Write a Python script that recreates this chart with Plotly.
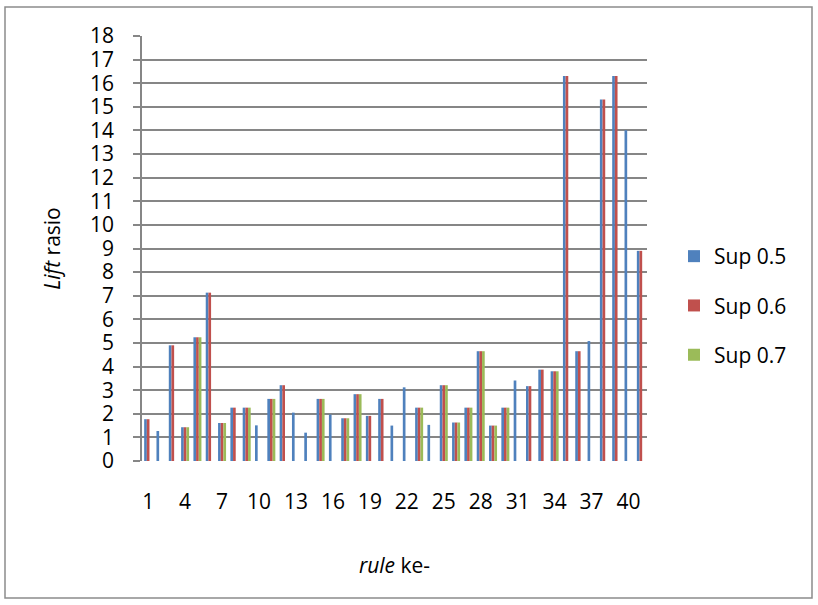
import plotly.graph_objects as go

# Rule numbers (1..41) and lift ratios per minimum-support setting
rules = list(range(1, 42))

sup_05 = [1.77, 1.27, 4.90, 1.43, 5.24, 7.13, 1.61, 2.26, 2.26, 1.51,
          2.63, 3.21, 2.05, 1.20, 2.63, 1.97, 1.81, 2.83, 1.91, 2.63,
          1.50, 3.12, 2.26, 1.53, 3.21, 1.63, 2.26, 4.65, 1.50, 2.26,
          3.41, 3.17, 3.87, 3.80, 16.31, 4.65, 5.08, 15.31, 16.31, 14.01,
          8.90]

sup_06 = [1.77, None, 4.90, 1.43, 5.24, 7.13, 1.61, 2.26, 2.26, None,
          2.63, 3.21, None, None, 2.63, None, 1.81, 2.83, 1.91, 2.63,
          None, None, 2.26, None, 3.21, 1.63, 2.26, 4.65, 1.50, 2.26,
          None, 3.17, 3.87, 3.80, 16.31, 4.65, None, 15.31, 16.31, None,
          8.90]

sup_07 = [None, None, None, 1.43, 5.24, None, 1.61, None, 2.26, None,
          2.63, None, None, None, 2.63, None, 1.81, 2.83, None, None,
          None, None, 2.26, None, 3.21, 1.63, 2.26, 4.65, 1.50, 2.26,
          None, None, None, 3.80, None, None, None, None, None, None,
          None]

series_names = ["Sup 0.5", "Sup 0.6", "Sup 0.7"]
series_colors = ["#4F81BD", "#C0504D", "#9BBB59"]

x_tick_vals = list(range(1, 42, 3))
y_tick_vals = list(range(0, 19))

FONT = "Open Sans"
FS = 21
GRID = "#868686"

fig = go.Figure()
for name, vals, color in zip(series_names, [sup_05, sup_06, sup_07], series_colors):
    fig.add_trace(go.Bar(
        x=rules, y=vals, name=name, legendgroup=name,
        marker=dict(color=color, line=dict(width=0)),
    ))

# plot area geometry (pixels) used to place the outer frame and legend
W, H = 818, 605
L, R, T, B = 142, 171, 36, 144
pw, ph = W - L - R, H - T - B

def px_x(x):
    return (x - L) / pw

def px_y(y):
    return (H - B - y) / ph

fig.update_layout(
    width=W, height=H,
    margin=dict(l=L, r=R, t=T, b=B),
    paper_bgcolor="white", plot_bgcolor="white",
    barmode="group", bargap=0.35, bargroupgap=0,
    font=dict(family=FONT, size=FS, color="#000000"),
    xaxis=dict(
        range=[0.5, 41.5], tickmode="array", tickvals=x_tick_vals,
        ticktext=[str(v) for v in x_tick_vals],
        showgrid=False, zeroline=False, showline=False,
        ticks="", ticklabelstandoff=26,
        tickfont=dict(family=FONT, size=FS),
        title=dict(text="<i>rule</i> ke-", font=dict(family=FONT, size=FS),
                   standoff=44),
    ),
    yaxis=dict(
        range=[0, 18], tickmode="array", tickvals=y_tick_vals,
        showgrid=True, gridcolor=GRID, gridwidth=1.6,
        zeroline=False, showline=True, linecolor=GRID, linewidth=1.6,
        ticks="outside", ticklen=7, tickcolor=GRID, tickwidth=1.6,
        ticklabelstandoff=15,
        tickfont=dict(family=FONT, size=FS),
        title=dict(text="<i>Lift</i> rasio", font=dict(family=FONT, size=FS),
                   standoff=24),
    ),
    legend=dict(
        x=px_x(674), y=px_y(236), xanchor="left", yanchor="top",
        font=dict(family=FONT, size=FS),
        traceorder="grouped", tracegroupgap=19,
        bgcolor="rgba(0,0,0,0)", itemclick=False,
    ),
    showlegend=True,
)

# outer chart frame
fig.add_shape(type="rect", xref="paper", yref="paper",
              x0=px_x(5), x1=px_x(812), y0=px_y(598), y1=px_y(7),
              line=dict(color="#8c8c8c", width=1.5), layer="below")

fig.write_html("out.html")
